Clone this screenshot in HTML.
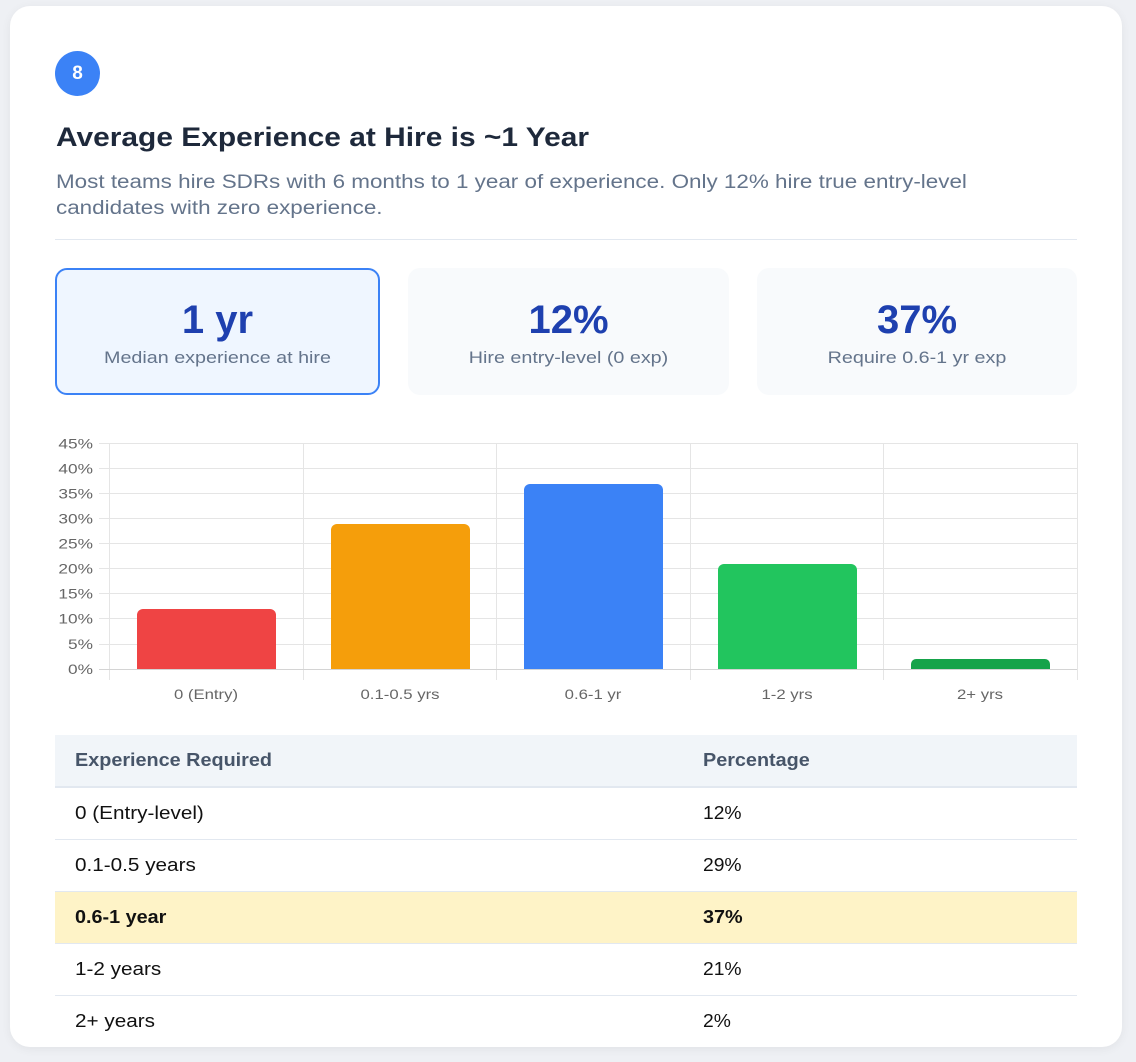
<!DOCTYPE html>
<html><head><meta charset="utf-8">
<style>
*{box-sizing:border-box;margin:0;padding:0}
html,body{width:1136px;height:1062px;overflow:hidden;background:#eef0f4;font-family:"Liberation Sans",Arial,sans-serif}
.card{position:absolute;left:10px;top:6px;width:1112px;height:1041px;background:#fff;border-radius:20px;box-shadow:0 2px 10px rgba(0,0,0,0.06);overflow:hidden}
.abs{position:absolute}
.badge{left:45px;top:45px;width:45px;height:45px;border-radius:50%;background:#3b82f6;color:#fff;font-weight:bold;font-size:19px;text-align:center;line-height:45px}
.title{left:46px;top:116px;font-size:27px;font-weight:bold;color:#1e293b;white-space:nowrap;transform:scaleX(1.108);transform-origin:left top}
.sub{left:46px;top:164px;font-size:19px;color:#64748b;line-height:26px;white-space:nowrap;transform:scaleX(1.18);transform-origin:left top}
.hr{left:45px;top:233px;width:1022px;height:1px;background:#e2e8f0}
.stat{top:262px;height:127px;border-radius:12px;background:#f8fafc;text-align:center}
.stat .n{position:absolute;left:0;right:0;top:30px;font-size:40px;font-weight:bold;color:#1e40af;line-height:44px}
.stat .l{position:absolute;left:0;right:0;top:80px;font-size:17px;color:#64748b;transform:scaleX(1.16);transform-origin:center}
.s1{left:45px;width:325px;background:#eff6ff;border:2px solid #3b82f6}
.s1 .n{top:28px}.s1 .l{top:78px}
.s2{left:398px;width:321px}
.s3{left:747px;width:320px}
table{position:absolute;left:45px;top:729px;width:1022px;border-collapse:collapse;font-size:18px}
th{background:#f1f5f9;color:#475569;text-align:left;font-weight:bold;height:52px;padding:0 20px;border-bottom:2px solid #e2e8f0}
th span{display:inline-block;transform:scaleX(1.1);transform-origin:left center}
td{height:52px;padding:0 20px;color:#111;border-bottom:1px solid #e2e8f0}
td span{display:inline-block;transform:scaleX(1.15);transform-origin:left center}
td+td span{transform:scaleX(1.07)}
tr.hl td{background:#fef3c7;font-weight:bold}
tr.hl td span{transform:scaleX(1.1)}
</style></head><body>
<div class="card">
<div class="abs badge">8</div>
<div class="abs title">Average Experience at Hire is ~1 Year</div>
<div class="abs sub">Most teams hire SDRs with 6 months to 1 year of experience. Only 12% hire true entry-level<br>candidates with zero experience.</div>
<div class="abs hr"></div>
<div class="abs stat s1"><div class="n">1 yr</div><div class="l">Median experience at hire</div></div>
<div class="abs stat s2"><div class="n">12%</div><div class="l">Hire entry-level (0 exp)</div></div>
<div class="abs stat s3"><div class="n">37%</div><div class="l">Require 0.6-1 yr exp</div></div>

<svg class="abs" style="left:-10px;top:-6px" width="1136" height="1062" viewBox="0 0 1136 1062">
<g stroke="#e5e5e5" stroke-width="1">
<line x1="99" x2="1077" y1="443.5" y2="443.5"/>
<line x1="99" x2="1077" y1="468.5" y2="468.5"/>
<line x1="99" x2="1077" y1="493.5" y2="493.5"/>
<line x1="99" x2="1077" y1="518.5" y2="518.5"/>
<line x1="99" x2="1077" y1="543.5" y2="543.5"/>
<line x1="99" x2="1077" y1="568.5" y2="568.5"/>
<line x1="99" x2="1077" y1="593.5" y2="593.5"/>
<line x1="99" x2="1077" y1="618.5" y2="618.5"/>
<line x1="99" x2="1077" y1="644.5" y2="644.5"/>
<line x1="109.5" x2="109.5" y1="443" y2="680"/>
<line x1="303.5" x2="303.5" y1="443" y2="680"/>
<line x1="496.5" x2="496.5" y1="443" y2="680"/>
<line x1="690.5" x2="690.5" y1="443" y2="680"/>
<line x1="883.5" x2="883.5" y1="443" y2="680"/>
<line x1="1077.5" x2="1077.5" y1="443" y2="680"/>
</g>
<line x1="99" x2="1077" y1="669.5" y2="669.5" stroke="#d4d4d4"/>
<path d="M137 669V615a6 6 0 0 1 6-6H270a6 6 0 0 1 6 6V669Z" fill="#ef4444"/>
<path d="M331 669V530a6 6 0 0 1 6-6H464a6 6 0 0 1 6 6V669Z" fill="#f59e0b"/>
<path d="M524 669V490a6 6 0 0 1 6-6H657a6 6 0 0 1 6 6V669Z" fill="#3b82f6"/>
<path d="M718 669V570a6 6 0 0 1 6-6H851a6 6 0 0 1 6 6V669Z" fill="#22c55e"/>
<path d="M911 669V664a5 5 0 0 1 5-5H1045a5 5 0 0 1 5 5V669Z" fill="#16a34a"/>
<g font-family="Liberation Sans, Arial, sans-serif" font-size="13.5" fill="#666" text-anchor="end">
<text transform="translate(93,448.5) scale(1.28,1)">45%</text>
<text transform="translate(93,473.5) scale(1.28,1)">40%</text>
<text transform="translate(93,498.5) scale(1.28,1)">35%</text>
<text transform="translate(93,523.5) scale(1.28,1)">30%</text>
<text transform="translate(93,548.5) scale(1.28,1)">25%</text>
<text transform="translate(93,573.5) scale(1.28,1)">20%</text>
<text transform="translate(93,598.5) scale(1.28,1)">15%</text>
<text transform="translate(93,623.5) scale(1.28,1)">10%</text>
<text transform="translate(93,649) scale(1.28,1)">5%</text>
<text transform="translate(93,674) scale(1.28,1)">0%</text>
</g>
<g font-family="Liberation Sans, Arial, sans-serif" font-size="13.5" fill="#666" text-anchor="middle">
<text transform="translate(206,699) scale(1.24,1)">0 (Entry)</text>
<text transform="translate(400,699) scale(1.24,1)">0.1-0.5 yrs</text>
<text transform="translate(593,699) scale(1.24,1)">0.6-1 yr</text>
<text transform="translate(787,699) scale(1.24,1)">1-2 yrs</text>
<text transform="translate(980,699) scale(1.24,1)">2+ yrs</text>
</g>
</svg>

<table>
<tr><th style="width:628px"><span>Experience Required</span></th><th><span>Percentage</span></th></tr>
<tr><td><span>0 (Entry-level)</span></td><td><span>12%</span></td></tr>
<tr><td><span>0.1-0.5 years</span></td><td><span>29%</span></td></tr>
<tr class="hl"><td><span>0.6-1 year</span></td><td><span>37%</span></td></tr>
<tr><td><span>1-2 years</span></td><td><span>21%</span></td></tr>
<tr><td><span>2+ years</span></td><td><span>2%</span></td></tr>
</table>
</div>
</body></html>
